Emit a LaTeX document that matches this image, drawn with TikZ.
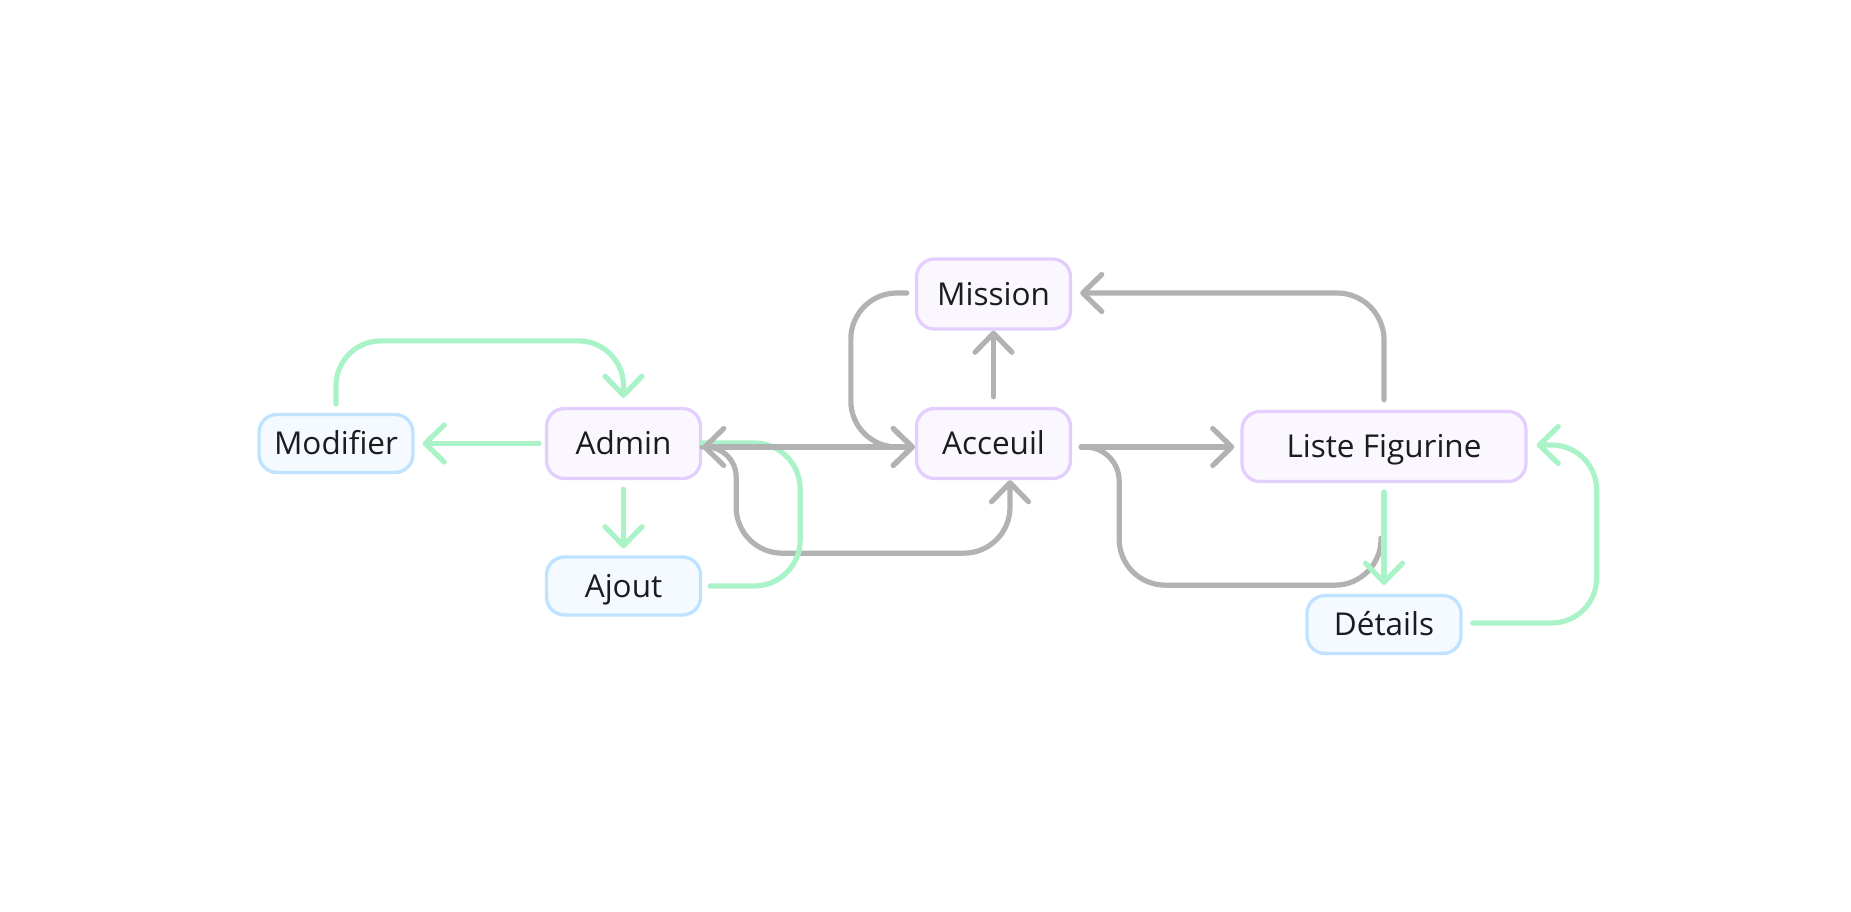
\documentclass[tikz,border=0pt]{standalone}
\usepackage{fontspec}
\setmainfont{Open Sans}
\usetikzlibrary{arrows.meta}
\tikzset{
  card/.style={
    rounded corners=18pt,
    line width=3.3pt,
    minimum width=154pt,
    inner sep=0pt,
    text height=22.5pt,
    text depth=0pt,
    text=inktext,
    font=\fontsize{31.5}{38}\selectfont
  },
  card-purple/.style={card, draw=framepurple, fill=fillpurple, minimum height=70pt},
  card-blue/.style={card, draw=frameblue, fill=fillblue, minimum height=58pt},
  link/.style={
    line width=5.2pt,
    line cap=round,
    line join=round,
    >={Straight Barb[length=19pt,width=37pt,round]}
  },
  link-gray/.style={link, draw=linegray},
  link-green/.style={link, draw=linegreen},
  turn/.style={rounded corners=46pt}
}
\definecolor{inktext}{RGB}{28,28,30}
\definecolor{framepurple}{RGB}{228,206,255}
\definecolor{fillpurple}{RGB}{250,247,255}
\definecolor{frameblue}{RGB}{190,226,255}
\definecolor{fillblue}{RGB}{244,250,255}
\definecolor{linegray}{RGB}{178,178,178}
\definecolor{linegreen}{RGB}{170,242,200}

\begin{document}
\begin{tikzpicture}[x=1pt,y=-1pt]
  \useasboundingbox (0,0) rectangle (1851,912);

  % --- pages ---
  \node[card-blue]   (modifier) at (336,443.5)   {Modifier};
  \node[card-purple] (admin)    at (623.5,443.5) {Admin};
  \node[card-blue]   (ajout)    at (623.5,586)   {Ajout};
  \node[card-purple] (mission)  at (993.5,294)   {Mission};
  \node[card-purple] (acceuil)  at (993.5,443.5) {Acceuil};
  \node[card-purple, minimum width=284pt] (liste) at (1384,446.5) {Liste Figurine};
  \node[card-blue]   (details)  at (1384,624.5)  {Détails};

  % --- gray links, lowest first ---
  % Admin -> Acceuil, under the boxes
  \draw[link-gray,->] ([yshift=-3.5pt]admin.east) [rounded corners=30pt] -- ++(34,0)
    [rounded corners=46pt] |- ([xshift=16.5pt,yshift=-73pt]acceuil.south)
    -- ([xshift=16.5pt]acceuil.south);

  % Ajout -> Admin (its tip sits under the gray one)
  \draw[link-green,turn] ([xshift=8pt]ajout.east) -| ([xshift=98pt,yshift=0.5pt]admin.east)
    -- ([yshift=0.5pt]admin.east);

  % Admin <-> Acceuil
  \draw[link-gray,<->] ([yshift=-3.5pt]admin.east) -- ([yshift=-3.5pt]acceuil.west);

  % Mission -> Acceuil
  \draw[link-gray,->,turn] ([xshift=-8pt,yshift=1pt]mission.west)
    -| ([xshift=-64pt,yshift=-3.5pt]acceuil.west) -- ([yshift=-3.5pt]acceuil.west);

  % Acceuil -> Mission
  \draw[link-gray,->] ([yshift=10pt]acceuil.north) -- (mission.south);

  % Liste Figurine -> Mission
  \draw[link-gray,->,rounded corners=47pt] ([yshift=10pt]liste.north)
    |- ([xshift=8pt,yshift=1pt]mission.east);

  % Acceuil -> Liste Figurine
  \draw[link-gray,->] ([xshift=9pt,yshift=-3.5pt]acceuil.east)
    -- ([xshift=-6pt,yshift=-0.5pt]liste.west);
  \draw[link-gray] ([xshift=9pt,yshift=-3.5pt]acceuil.east) [rounded corners=34pt] -- ++(38,0)
    [rounded corners=46pt] |- ([xshift=-3pt,yshift=-102pt]liste.south)
    -- ([xshift=-3pt,yshift=-55pt]liste.south);

  % --- green links ---
  \draw[link-green,->] ([xshift=-6pt]admin.west) -- ([xshift=8pt]modifier.east);
  \draw[link-green,->,rounded corners=45pt] ([yshift=9pt]modifier.north)
    |- ([yshift=66pt]admin.north) -- ([yshift=9pt]admin.north);
  \draw[link-green,->] ([yshift=-9pt]admin.south) -- ([yshift=7pt]ajout.north);
  \draw[link-green,->] ([yshift=-9pt]liste.south) -- ([yshift=9pt]details.north);
  \draw[link-green,->,rounded corners=45pt] ([xshift=10pt,yshift=1.5pt]details.east)
    -| ([xshift=69pt,yshift=1.5pt]liste.east) -- ([xshift=9pt,yshift=1.5pt]liste.east);
\end{tikzpicture}
\end{document}
